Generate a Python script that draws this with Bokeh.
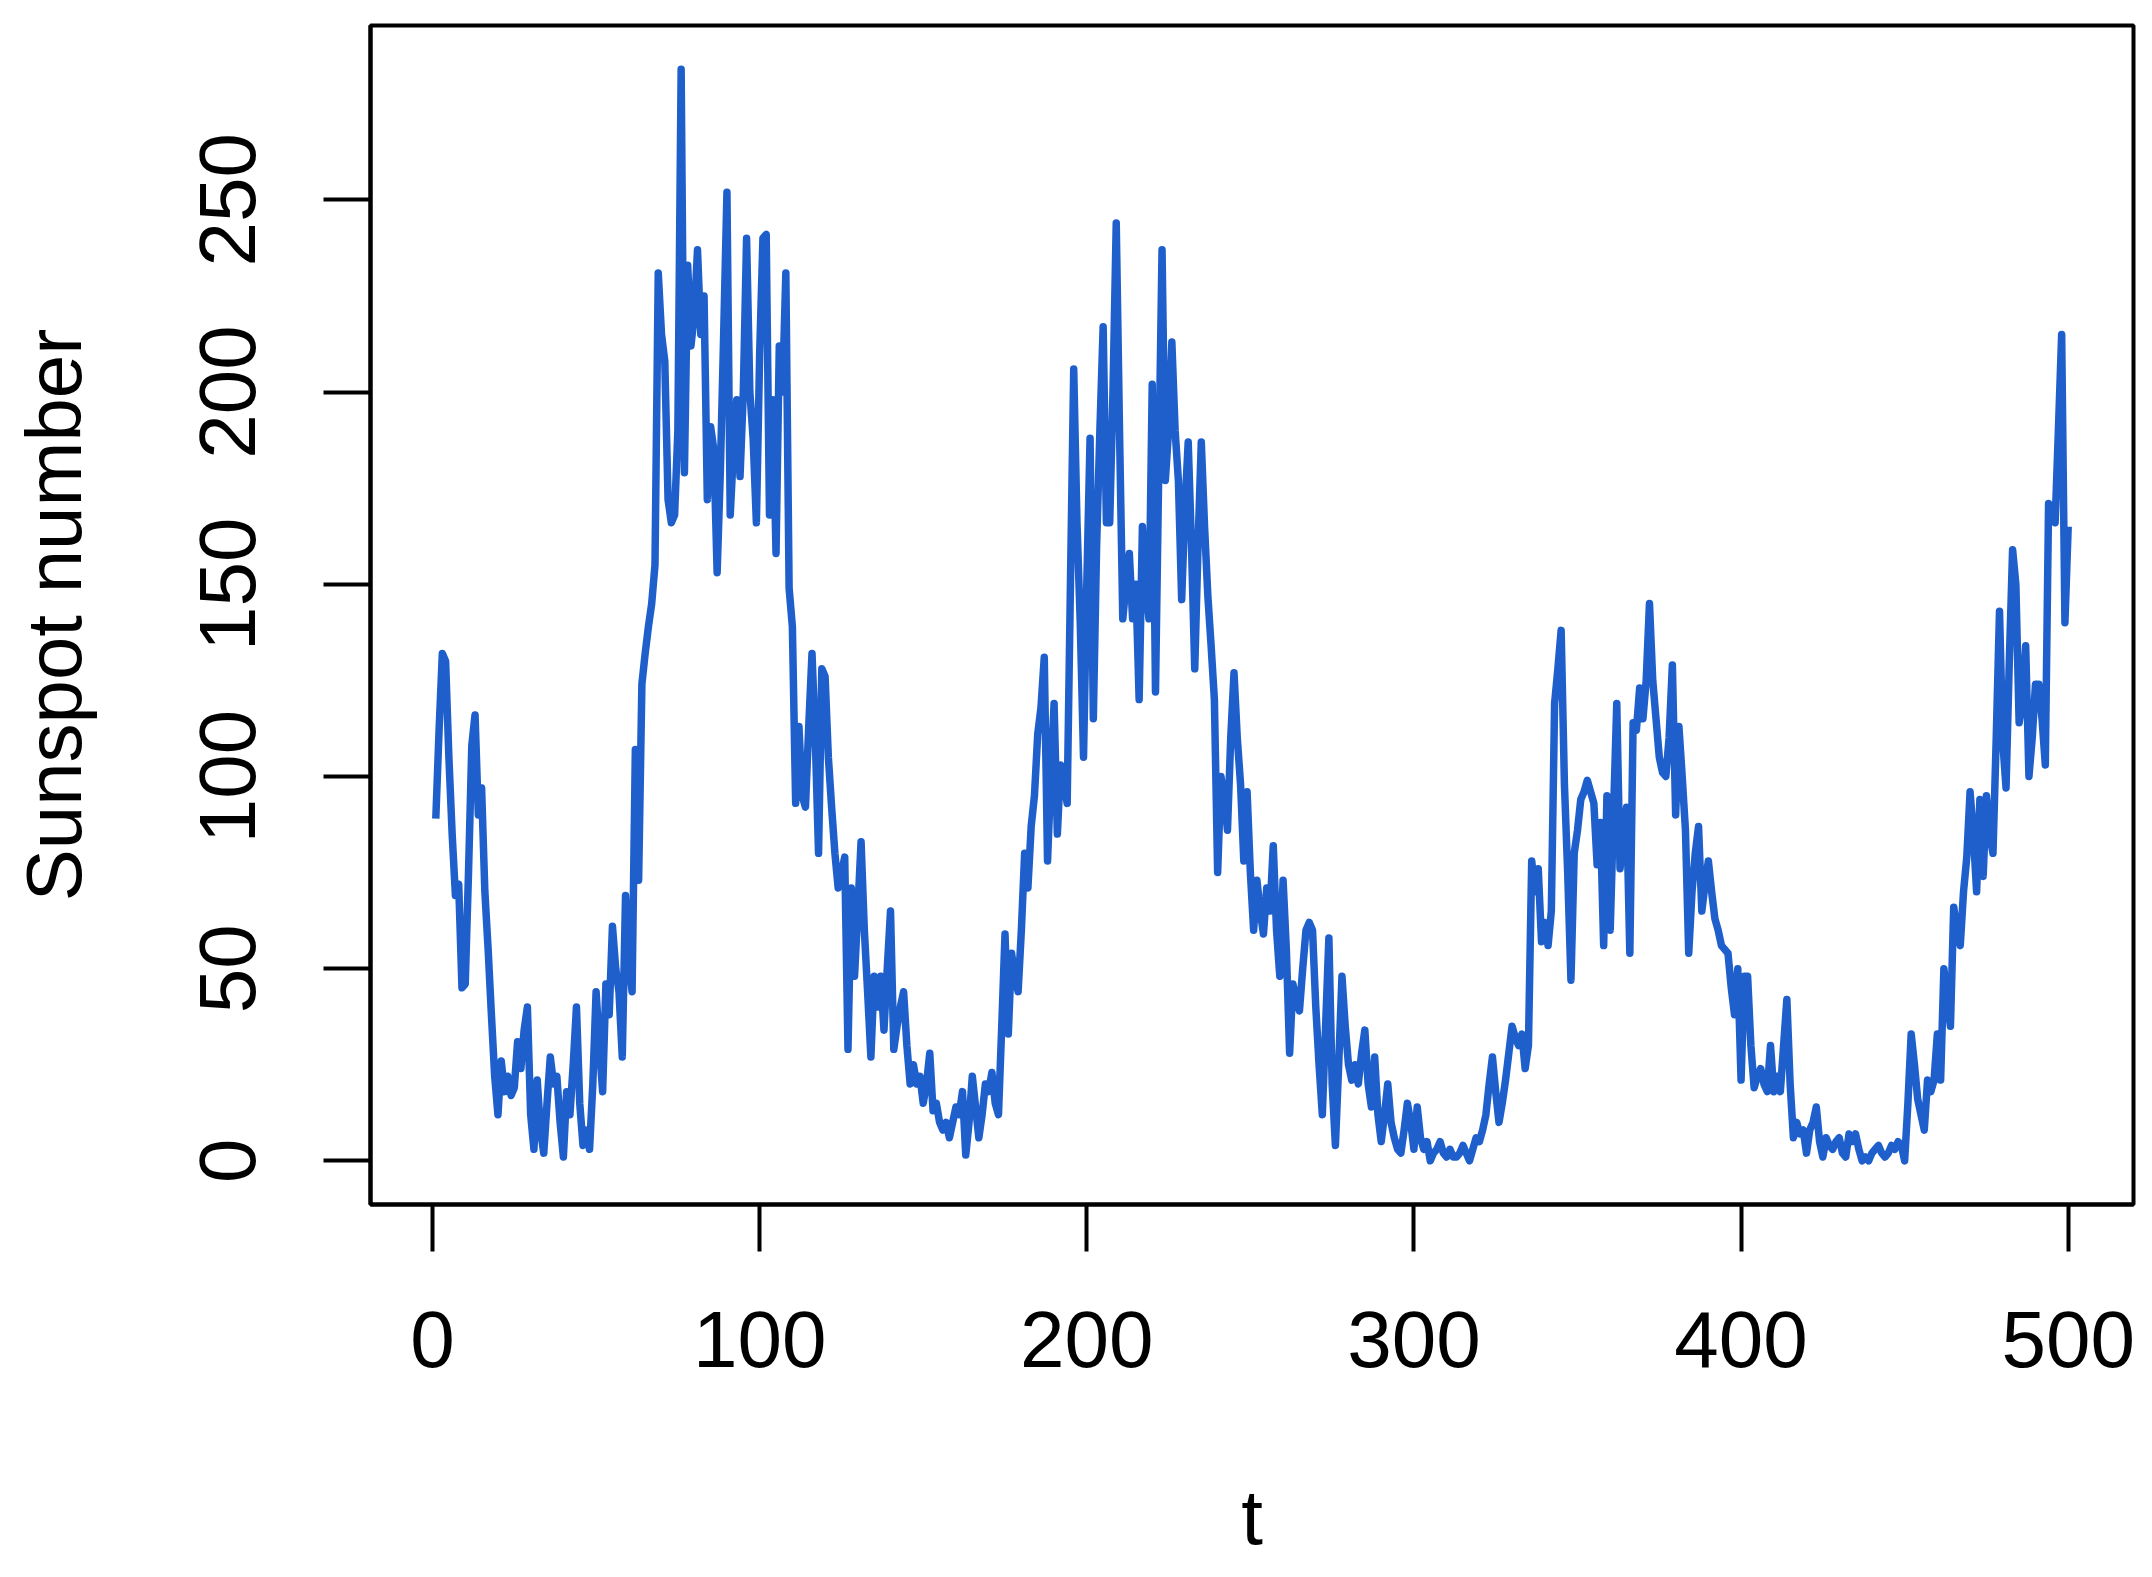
from bokeh.plotting import figure
from bokeh.models import Range1d, FixedTicker
from bokeh.embed import file_html
from bokeh.resources import INLINE

# Sunspot numbers, t = 1..500
sunspots = [
    89, 112, 132, 130, 105, 85, 69, 72, 45, 46,
    75, 108, 116, 90, 97, 70, 55, 38, 22, 12,
    26, 18, 22, 17, 19, 31, 24, 34, 40, 12,
    3, 21, 8, 2, 15, 27, 20, 22, 10, 1,
    18, 12, 25, 40, 15, 4, 8, 3, 20, 44,
    30, 18, 46, 38, 61, 50, 44, 27, 69, 52,
    44, 107, 73, 124, 132, 139, 145, 155, 231, 215,
    208, 172, 166, 168, 190, 284, 179, 233, 212, 220,
    237, 215, 225, 172, 191, 185, 153, 180, 215, 252,
    168, 185, 198, 178, 200, 240, 200, 188, 166, 210,
    240, 241, 168, 198, 158, 212, 200, 231, 149, 139,
    93, 113, 95, 92, 113, 132, 110, 80, 128, 126,
    105, 92, 80, 71, 75, 79, 29, 71, 48, 65,
    83, 60, 44, 27, 48, 40, 48, 34, 50, 65,
    29, 35, 40, 44, 30, 20, 25, 20, 22, 15,
    20, 28, 13, 15, 10, 8, 10, 6, 10, 14,
    12, 18, 1.5, 10, 22, 14, 6, 12, 20, 18,
    23, 15, 12, 35, 59, 33, 54, 48, 44, 60,
    80, 71, 87, 95, 111, 118, 131, 78, 100, 119,
    85, 103, 98, 93, 150, 206, 166, 140, 105, 150,
    188, 115, 160, 190, 217, 166, 166, 200, 244, 190,
    141, 150, 158, 141, 150, 120, 165, 150, 141, 202,
    122, 180, 237, 177, 190, 213, 190, 177, 146, 170,
    187, 160, 128, 160, 187, 165, 147, 134, 120, 75,
    100, 95, 86, 110, 127, 110, 98, 78, 96, 75,
    60, 73, 65, 59, 71, 65, 82, 60, 48, 73,
    55, 28, 46, 42, 39, 50, 60, 62, 60, 40,
    25, 12, 35, 58, 20, 4, 25, 48, 35, 25,
    21, 25, 20, 28, 34, 20, 14, 27, 12, 5,
    12, 20, 10, 6, 3, 2, 8, 15, 10, 3,
    14, 6, 3, 5, 0, 2, 3, 5, 2, 1,
    3, 1, 1, 2, 4, 2, 0, 3, 6, 5,
    8, 12, 20, 27, 18, 10, 15, 21, 28, 35,
    32, 30, 33, 24, 30, 78, 70, 76, 57, 62,
    56, 65, 119, 128, 138, 98, 75, 47, 80, 86,
    94, 96, 99, 96, 93, 77, 88, 56, 95, 60,
    90, 119, 76, 85, 92, 54, 114, 112, 123, 115,
    125, 145, 125, 115, 105, 101, 100, 110, 129, 90,
    113, 100, 86, 54, 70, 80, 87, 65, 72, 78,
    70, 63, 60, 56, 55, 54, 45, 38, 50, 21,
    48, 48, 30, 19, 22, 24, 20, 18, 30, 18,
    22, 18, 30, 42, 20, 6, 10, 7, 8, 2,
    8, 10, 14, 5, 1, 6, 4, 3, 5, 6,
    2, 1, 7, 5, 7, 3, 0, 1, 0, 2,
    3, 4, 2, 1, 2, 4, 3, 5, 4, 0,
    15, 33, 25, 16, 12, 8, 21, 18, 21, 33,
    21, 50, 42, 35, 66, 60, 56, 70, 79, 96,
    85, 70, 94, 74, 95, 85, 80, 110, 143, 109,
    97, 130, 159, 150, 114, 120, 134, 100, 110, 124,
    124, 115, 103, 171, 170, 166, 190, 215, 140, 165,
]
t = list(range(1, len(sunspots) + 1))

x_ticks = [0, 100, 200, 300, 400, 500]
y_ticks = [0, 50, 100, 150, 200, 250]
x_label = "t"
y_label = "Sunspot number"

xr = max(t) - min(t)
yr = max(sunspots) - min(sunspots)

p = figure(width=2136, height=1569, output_backend="svg", toolbar_location=None,
           x_range=Range1d(min(t) - 0.04 * xr, max(t) + 0.04 * xr),
           y_range=Range1d(min(sunspots) - 0.04 * yr, max(sunspots) + 0.04 * yr),
           min_border_left=370, min_border_right=3, min_border_top=25, min_border_bottom=365)

p.line(t, sunspots, line_color="#1F5FCC", line_width=7.5, line_join="round")

p.grid.visible = False
p.outline_line_color = "black"
p.outline_line_width = 4
p.background_fill_color = "white"
p.border_fill_color = "white"

p.xaxis.ticker = FixedTicker(ticks=x_ticks)
p.yaxis.ticker = FixedTicker(ticks=y_ticks)
p.xaxis.axis_label = x_label
p.yaxis.axis_label = y_label

for ax in (p.xaxis[0], p.yaxis[0]):
    ax.axis_line_width = 4
    ax.axis_line_color = "black"
    ax.major_tick_line_width = 4
    ax.major_tick_line_color = "black"
    ax.major_tick_out = 47
    ax.major_tick_in = 0
    ax.minor_tick_line_color = None
    ax.major_label_text_font = "Liberation Sans"
    ax.major_label_text_font_size = "80px"
    ax.major_label_text_color = "black"
    ax.axis_label_text_font = "Liberation Sans"
    ax.axis_label_text_font_size = "78px"
    ax.axis_label_text_font_style = "normal"
    ax.axis_label_text_color = "black"

p.yaxis.major_label_orientation = "vertical"
p.xaxis.major_label_standoff = 60
p.yaxis.major_label_standoff = 68
p.xaxis.axis_label_standoff = 103
p.yaxis.axis_label_standoff = 100

open("out.html", "w").write(file_html(p, INLINE))
